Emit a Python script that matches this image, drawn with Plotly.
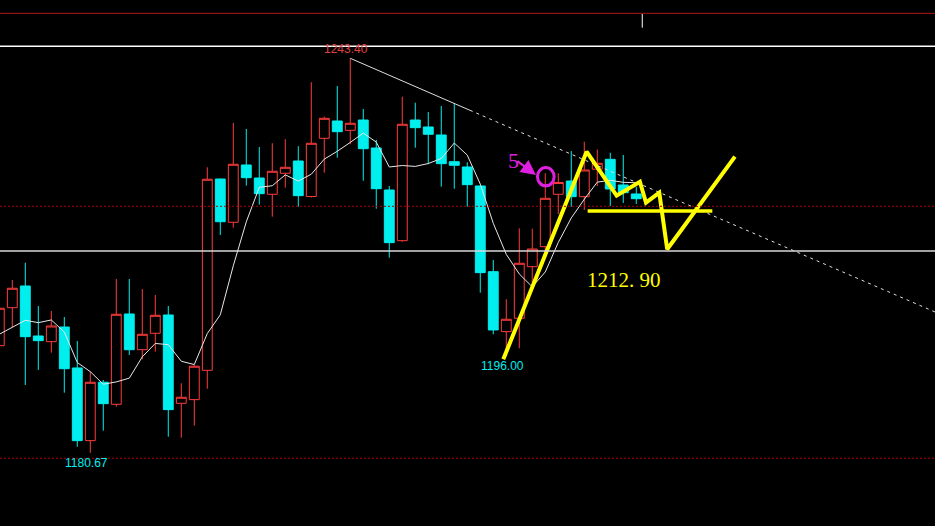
import plotly.graph_objects as go
import pandas as pd

# ---------------- data ----------------
opens = [1197.71, 1203.75, 1207.20, 1199.25, 1198.35, 1200.68, 1194.17, 1182.61, 1191.89, 1188.39,
         1202.75, 1197.07, 1199.68, 1202.59, 1188.55, 1189.13, 1193.80, 1224.21, 1217.33, 1226.44,
         1224.37, 1221.78, 1225.12, 1227.07, 1221.43, 1230.68, 1233.43, 1231.95, 1233.59, 1229.14,
         1222.46, 1214.40, 1233.59, 1232.48, 1231.21, 1226.96, 1226.12, 1223.10, 1209.48, 1199.94,
         1202.07, 1210.27, 1213.45, 1221.78, 1223.89, 1221.40, 1225.77, 1227.34, 1223.26, 1221.83]
highs = [1204.18, 1208.16, 1210.91, 1204.02, 1203.23, 1202.27, 1198.46, 1193.58, 1192.26, 1208.31,
         1208.31, 1206.72, 1205.77, 1204.02, 1191.73, 1194.64, 1226.07, 1224.29, 1233.12, 1232.16,
         1229.30, 1229.90, 1230.54, 1229.43, 1239.60, 1234.12, 1239.00, 1243.40, 1235.34, 1230.41,
         1223.10, 1237.30, 1236.34, 1234.86, 1235.82, 1236.25, 1226.87, 1223.18, 1211.34, 1205.09,
         1216.37, 1216.31, 1225.12, 1225.12, 1228.66, 1230.14, 1228.90, 1228.39, 1228.03, 1222.99]
lows = [1197.34, 1200.64, 1191.46, 1193.85, 1196.60, 1190.24, 1181.65, 1180.67, 1184.20, 1188.01,
        1196.23, 1195.55, 1196.76, 1183.24, 1183.08, 1184.99, 1190.87, 1215.31, 1216.47, 1223.15,
        1220.13, 1218.22, 1222.83, 1219.81, 1221.27, 1225.21, 1227.60, 1229.73, 1223.94, 1219.49,
        1211.70, 1214.24, 1229.19, 1226.55, 1222.99, 1222.67, 1219.81, 1206.14, 1199.52, 1196.00,
        1197.30, 1207.63, 1212.61, 1218.65, 1219.81, 1219.28, 1223.10, 1219.92, 1220.40, 1220.24]
closes = [1203.66, 1206.84, 1199.14, 1198.51, 1200.84, 1194.05, 1182.61, 1191.89, 1188.49, 1202.70,
          1197.07, 1199.52, 1202.54, 1187.54, 1189.51, 1194.44, 1224.17, 1217.42, 1226.55, 1224.42,
          1221.88, 1225.44, 1226.07, 1221.56, 1229.89, 1233.86, 1231.73, 1233.07, 1229.03, 1222.67,
          1214.09, 1232.91, 1232.37, 1231.32, 1226.65, 1226.39, 1223.31, 1209.32, 1200.21, 1201.91,
          1210.81, 1213.08, 1221.14, 1223.66, 1221.40, 1225.64, 1226.71, 1222.62, 1222.03, 1221.08]
prev_closes = [1201.27, 1193.58, 1200.41, 1198.70]   # off-screen bars feeding the MA5

# reference levels
level_red_top = 1250.55
level_white_top = 1245.31
level_red_mid = 1219.87
level_white_mid = 1212.75
level_red_low = 1179.81

# hand-drawn annotations (bar index, price)
trend_x = [27, 36.2, 72]
trend_y = [1243.40, 1235.14, 1203.05]
zigzag_x = [38.77, 45.18, 47.49, 49.28, 49.75, 50.77, 51.38, 56.59]
zigzag_y = [1195.55, 1228.55, 1221.56, 1223.78, 1220.44, 1222.03, 1213.04, 1227.76]
hline_x = [45.26, 54.85]
hline_y = [1219.13, 1219.13]

idx = list(range(len(closes)))
ma5 = pd.Series(prev_closes + closes).rolling(5).mean().tolist()[len(prev_closes):]

RED = "#ff3c3c"
CYAN = "#00eeee"
MAG = "#e020e0"
YEL = "#ffff00"

fig = go.Figure()
fig.add_trace(go.Candlestick(
    x=idx, open=opens, high=highs, low=lows, close=closes,
    increasing=dict(line=dict(color=RED, width=1), fillcolor="#000000"),
    decreasing=dict(line=dict(color=CYAN, width=1), fillcolor=CYAN),
    whiskerwidth=0, hoverinfo="skip", showlegend=False))

fig.add_trace(go.Scatter(x=idx, y=ma5, mode="lines",
                         line=dict(color="#e8e8e8", width=1),
                         hoverinfo="skip", showlegend=False))

# trend line: solid then dashed
fig.add_trace(go.Scatter(x=trend_x[:2], y=trend_y[:2], mode="lines",
                         line=dict(color="#e0e0e0", width=1),
                         hoverinfo="skip", showlegend=False))
fig.add_trace(go.Scatter(x=trend_x[1:], y=trend_y[1:], mode="lines",
                         line=dict(color="#e0e0e0", width=1, dash="3px,4px"),
                         hoverinfo="skip", showlegend=False))

# yellow drawings
fig.add_trace(go.Scatter(x=hline_x, y=hline_y, mode="lines",
                         line=dict(color=YEL, width=3.5),
                         hoverinfo="skip", showlegend=False))
fig.add_trace(go.Scatter(x=zigzag_x, y=zigzag_y, mode="lines",
                         line=dict(color=YEL, width=4),
                         hoverinfo="skip", showlegend=False))

shapes = [
    dict(type="line", xref="paper", x0=0, x1=1, y0=level_red_top, y1=level_red_top,
         line=dict(color="#b01818", width=1)),
    dict(type="line", xref="paper", x0=0, x1=1, y0=level_white_top, y1=level_white_top,
         line=dict(color="#ffffff", width=1.5)),
    dict(type="line", xref="paper", x0=0, x1=1, y0=level_red_mid, y1=level_red_mid,
         line=dict(color="#b00000", width=1, dash="2px,2px")),
    dict(type="line", xref="paper", x0=0, x1=1, y0=level_white_mid, y1=level_white_mid,
         line=dict(color="#d8d8d8", width=1.5)),
    dict(type="line", xref="paper", x0=0, x1=1, y0=level_red_low, y1=level_red_low,
         line=dict(color="#b00000", width=1, dash="2px,2px")),
    dict(type="line", x0=49.46, x1=49.46, y0=1248.27, y1=1250.44,
         line=dict(color="#ffffff", width=1)),
    dict(type="circle", x0=41.40, x1=42.68, y0=1223.13, y1=1226.04,
         line=dict(color=MAG, width=3)),
]

lab_font = dict(family="Liberation Sans, Arial, sans-serif", size=12)
annotations = [
    dict(x=27, y=highs[27], text=f"{highs[27]:.2f}", showarrow=False, xshift=-4, yshift=9,
         font=dict(color="#e04040", **lab_font)),
    dict(x=39, y=lows[39], text=f"{lows[39]:.2f}", showarrow=False, xshift=-4, yshift=-10,
         font=dict(color=CYAN, **lab_font)),
    dict(x=7, y=lows[7], text=f"{lows[7]:.2f}", showarrow=False, xshift=-4, yshift=-10,
         font=dict(color=CYAN, **lab_font)),
    dict(x=48.05, y=1208.16, text="1212. 90", showarrow=False,
         font=dict(color=YEL, size=21, family="Liberation Serif, Times New Roman, serif")),
    dict(x=39.54, y=1227.12, text="5", showarrow=False,
         font=dict(color=MAG, size=22, family="Liberation Serif, Times New Roman, serif")),
    dict(x=41.28, y=1224.85, ax=-20, ay=-15, text="", showarrow=True,
         arrowhead=2, arrowsize=1.5, arrowwidth=2, arrowcolor=MAG, standoff=0),
]

fig.update_layout(
    width=935, height=526,
    margin=dict(l=0, r=0, t=0, b=0),
    paper_bgcolor="#000000", plot_bgcolor="#000000",
    boxgap=0.24, boxgroupgap=0,
    xaxis=dict(range=[0.054, 71.98], visible=False, showgrid=False, zeroline=False,
               rangeslider=dict(visible=False), fixedrange=True),
    yaxis=dict(range=[1169.04, 1252.67], visible=False, showgrid=False, zeroline=False,
               fixedrange=True),
    shapes=shapes,
    annotations=annotations,
    showlegend=False,
)

fig.write_html("out.html", config={"displayModeBar": False},
               post_script="document.body.style.margin='0';document.body.style.overflow='hidden';document.body.style.background='#000';")
